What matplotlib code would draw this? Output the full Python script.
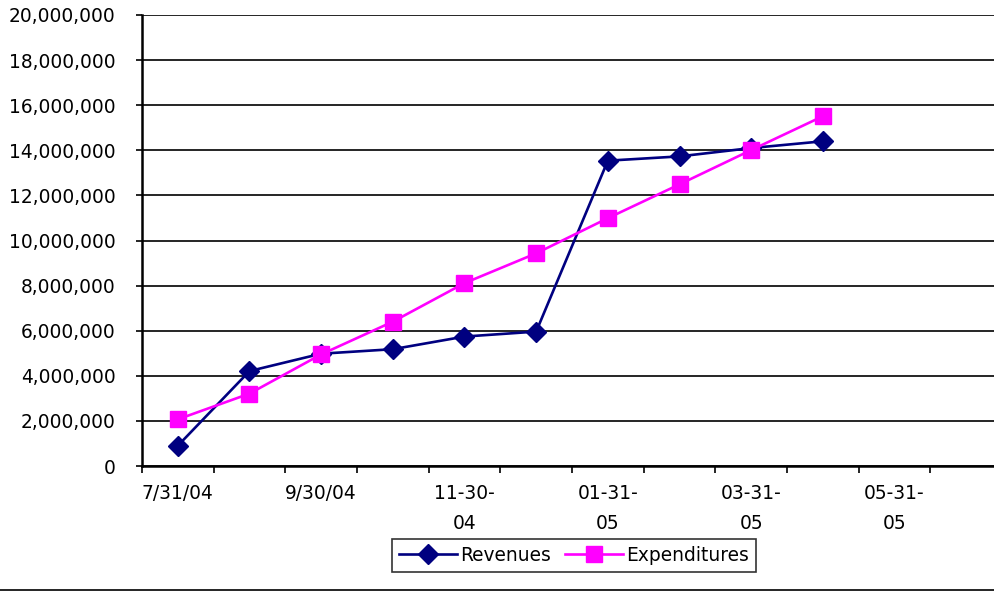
import matplotlib.pyplot as plt
from matplotlib.lines import Line2D
from matplotlib.ticker import FuncFormatter, FixedLocator

# month-end dates, Jul 2004 - Jun 2005
months = ['7/31/04', '8/31/04', '9/30/04', '10/31/04', '11-30-04', '12/31/04',
          '01-31-05', '02-28-05', '03-31-05', '04-30-05', '05-31-05', '06-30-05']
shown_labels = ['7/31/04', '9/30/04', '11-30-\n04', '01-31-\n05', '03-31-\n05', '05-31-\n05']
shown_idx = [0, 2, 4, 6, 8, 10]

revenues = [900000, 4210000, 4980000, 5180000, 5740000, 5960000,
            13540000, 13730000, 14100000, 14400000]
expenditures = [2070000, 3210000, 4950000, 6400000, 8110000, 9430000,
                10990000, 12490000, 14010000, 15510000]

W, H = 995, 593
fig = plt.figure(figsize=(W / 100, H / 100), dpi=100)
ax = fig.add_axes([142 / W, 1 - 466 / H, (1002 - 142) / W, (466 - 15) / H])

x = range(len(revenues))
ax.plot(x, revenues, color='#000080', lw=1.9, marker='D', ms=10,
        mec='#000080', mfc='#000080', label='Revenues', zorder=3)
ax.plot(x, expenditures, color='#FF00FF', lw=1.9, marker='s', ms=11.5,
        mec='#FF00FF', mfc='#FF00FF', label='Expenditures', zorder=3)

ax.set_xlim(-0.5, len(months) - 0.5)
ax.set_ylim(0, 20000000)
ax.set_yticks(range(0, 20000001, 2000000))
ax.yaxis.set_major_formatter(FuncFormatter(lambda v, p: f'{int(v):,}'))
ax.grid(axis='y', color='black', lw=1.2)
ax.set_axisbelow(True)

# tick marks between categories, labels on every other month
ax.xaxis.set_major_locator(FixedLocator(shown_idx))
ax.set_xticklabels(shown_labels, linespacing=1.7, va='top')
ax.xaxis.set_minor_locator(FixedLocator([i - 0.5 for i in range(len(months) + 1)]))
ax.tick_params(axis='x', which='major', length=0, pad=13, labelsize=13.4)
ax.tick_params(axis='x', which='minor', length=5, width=1.2, direction='out')
ax.tick_params(axis='y', length=4, width=1.2, pad=15, labelsize=13.4)

for s in ['top', 'right']:
    ax.spines[s].set_visible(False)
for s in ['left', 'bottom']:
    ax.spines[s].set_linewidth(1.8)

leg = fig.legend(loc='center', bbox_to_anchor=(574 / W, 1 - 555.5 / H), ncol=2,
                 fontsize=13.4, frameon=True, fancybox=False, shadow=False,
                 handlelength=3.1, handletextpad=0.15, columnspacing=0.8,
                 borderpad=0.4, borderaxespad=0)
leg.get_frame().set_edgecolor('black')
leg.get_frame().set_linewidth(1.2)

fig.add_artist(Line2D([0, 1], [1 - 590 / H, 1 - 590 / H], color='black', lw=1.2))

fig.savefig('out.png', dpi=100)
